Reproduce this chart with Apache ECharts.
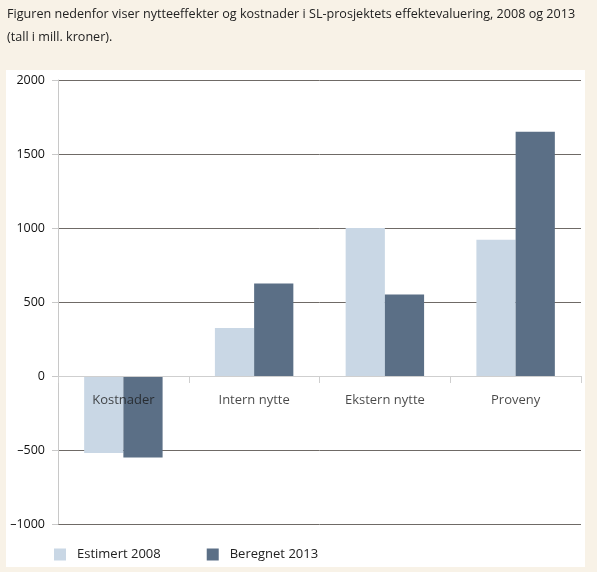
<!DOCTYPE html>
<html><head><meta charset="utf-8">
<script src="https://cdn.jsdelivr.net/npm/echarts@6/dist/echarts.min.js"></script>
<style>html,body{margin:0;padding:0;background:#f8f2e7;}#c{width:597px;height:572px;}</style>
</head><body><div id="c"></div>
<script>
const categories = ['Kostnader', 'Intern nytte', 'Ekstern nytte', 'Proveny'];
const estimert2008 = [-520, 325, 1000, 920];
const beregnet2013 = [-550, 625, 550, 1650];
const seriesNames = ['Estimert 2008', 'Beregnet 2013'];
const yTicks = { min: -1000, max: 2000, interval: 500 };
const titleLines = ['Figuren nedenfor viser nytteeffekter og kostnader i SL-prosjektets effektevaluering, 2008 og 2013', '(tall i mill. kroner).'];

const chart = echarts.init(document.getElementById('c'), null, {renderer: 'canvas'});
const font = 'Open Sans';
chart.setOption({
  backgroundColor: '#f8f2e7',
  animation: false,
  textStyle: { fontFamily: font },
  graphic: [
    { type: 'rect', z: -10, silent: true, shape: { x: 6, y: 70, width: 579, height: 497 }, style: { fill: '#ffffff' } },
    { type: 'text', left: 7, top: 8, style: { text: titleLines[0], font: '12.6px "Open Sans"', fill: '#222' } },
    { type: 'text', left: 7, top: 31, style: { text: titleLines[1], font: '12.6px "Open Sans"', fill: '#222' } }
  ],
  legend: {
    left: 49, top: 543,
    itemWidth: 12, itemHeight: 12, itemGap: 46,
    icon: 'rect',
    textStyle: { fontFamily: font, fontSize: 13, color: '#222', padding: [0, 0, 0, 6] },
    data: seriesNames
  },
  grid: { left: 58, right: 16, top: 80, bottom: 48 },
  xAxis: {
    type: 'category', data: categories, z: 5,
    axisLine: { onZero: true, lineStyle: { color: '#cfcfcf', width: 1 } },
    axisTick: { show: true, length: 7, lineStyle: { color: '#cfcfcf' } },
    axisLabel: { show: false }
  },
  yAxis: {
    type: 'value', min: yTicks.min, max: yTicks.max, interval: yTicks.interval,
    axisLine: { show: true, lineStyle: { color: '#c8c8c8' } },
    axisTick: { show: true, length: 6, lineStyle: { color: '#c8c8c8' } },
    axisLabel: { margin: 13, fontSize: 12.5, color: '#111', fontFamily: font,
      formatter: v => v < 0 ? '\u2013' + Math.abs(v) : String(v) },
    splitLine: { show: true, lineStyle: { color: ['#6f6a66','#6f6a66','#d0d0d0','#6f6a66','#6f6a66','#6f6a66','#6f6a66'], width: 1 } }
  },
  series: [
    { name: seriesNames[0], type: 'bar', data: estimert2008, barGap: '0%', barCategoryGap: '40%',
      itemStyle: { color: '#c9d7e5' } },
    { name: seriesNames[1], type: 'bar', data: beregnet2013,
      itemStyle: { color: '#5b6f86' } },
    { name: 'labels', type: 'scatter', z: 10, silent: true, symbolSize: 0.001,
      data: categories.map(c => [c, 0]),
      label: { show: true, position: 'bottom', distance: 18, formatter: p => p.value[0],
        fontFamily: font, fontSize: 13, color: '#1a1a1a' } }
  ]
});
</script></body></html>
